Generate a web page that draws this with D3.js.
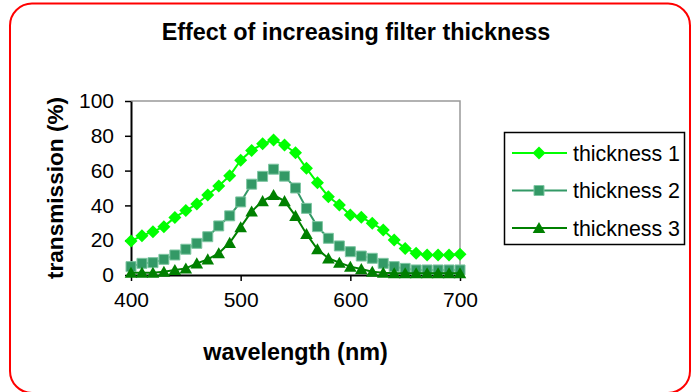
<!DOCTYPE html>
<html>
<head>
<meta charset="utf-8">
<script src="https://cdn.jsdelivr.net/npm/d3@7"></script>
<style>
  body { margin: 0; background: #fff; }
  text { font-family: Arial, "Liberation Sans", sans-serif; fill: #000; }
</style>
</head>
<body>
<div id="chart"></div>
<script>
var wavelengths = [400, 410, 420, 430, 440, 450, 460, 470, 480, 490, 500, 510, 520, 530, 540, 550,
  560, 570, 580, 590, 600, 610, 620, 630, 640, 650, 660, 670, 680, 690, 700]
var thickness1 = [19.5, 22.6, 24.9, 27.8, 33.1, 37, 40.8, 46, 51.2, 57, 66, 71.6, 75.4, 77.6, 74.7, 70.2,
  61.3, 53, 45, 40.2, 34.5, 33.2, 29.7, 25.9, 20.1, 15.3, 12.5, 11.5, 11.5, 11.5, 11.9]
var thickness2 = [4.8, 6.7, 7.1, 9, 11.5, 14.8, 18.2, 22, 28.2, 34, 42, 52.2, 56.7, 60.8, 56.8, 50,
  38.3, 27.8, 21.1, 16.7, 13.4, 10.9, 9.6, 6.7, 4.8, 3.8, 2.9, 2.9, 2.9, 2.9, 2.9]
var thickness3 = [1.3, 1.3, 1.3, 1.9, 2.9, 3.8, 6.7, 9, 12.5, 18.5, 27.5, 36.5, 42.5, 46, 42.5, 34,
  23.6, 14.8, 9.6, 7.1, 4.8, 3.4, 1.9, 1.3, 1, 1, 1, 1, 1, 1, 1]
var seriesNames = ["thickness 1", "thickness 2", "thickness 3"]
var xTicks = [400, 500, 600, 700]
var yTicks = [0, 20, 40, 60, 80, 100]

var width = 691, height = 392
var series = [
  {name: seriesNames[0], values: thickness1, color: "#00ff00", marker: "diamond"},
  {name: seriesNames[1], values: thickness2, color: "#339966", marker: "square"},
  {name: seriesNames[2], values: thickness3, color: "#008000", marker: "triangle"}
]

var svg = d3.select("#chart").append("svg")
  .attr("width", width)
  .attr("height", height)

// outer rounded frame
svg.append("rect")
  .attr("x", 10).attr("y", 3.5)
  .attr("width", 680).attr("height", 389.5)
  .attr("rx", 22).attr("ry", 22)
  .attr("fill", "none")
  .attr("stroke", "#ff0000")
  .attr("stroke-width", 2)

var x = d3.scaleLinear().domain([400, 700]).range([131, 460])
var y = d3.scaleLinear().domain([0, 100]).range([275, 101])

// plot frame (top/right gray)
svg.append("path")
  .attr("d", "M" + x(400) + "," + y(100) + "H" + x(700) + "V" + y(0))
  .attr("fill", "none").attr("stroke", "#999").attr("stroke-width", 1.5)

var xAxis = svg.append("g")
  .attr("transform", "translate(0," + y(0) + ")")
  .call(d3.axisBottom(x).tickValues(xTicks).tickSize(6).tickPadding(10).tickSizeOuter(0))
var yAxis = svg.append("g")
  .attr("transform", "translate(" + x(400) + ",0)")
  .call(d3.axisLeft(y).tickValues(yTicks).tickSize(6).tickPadding(11).tickSizeOuter(0))

;[xAxis, yAxis].forEach(function(a){
  a.select(".domain").attr("stroke", "#000").attr("stroke-width", 2)
  a.selectAll(".tick line").attr("stroke", "#000").attr("stroke-width", 1.5)
  a.selectAll(".tick text")
    .style("font-family", "Arial, 'Liberation Sans', sans-serif")
    .style("font-size", "21px")
    .attr("fill", "#000")
})
xAxis.selectAll(".tick text").attr("dy", "0.75em")

function markerPath(type, s){
  if(type == "diamond") return "M0," + (-s) + "L" + s + ",0L0," + s + "L" + (-s) + ",0Z"
  if(type == "square") return "M" + (-s) + "," + (-s) + "H" + s + "V" + s + "H" + (-s) + "Z"
  return "M0," + (-s) + "L" + (s * 1.05) + "," + (s * 0.85) + "H" + (-s * 1.05) + "Z"
}
var markerSize = {diamond: 6.5, square: 5, triangle: 6}

function drawMarker(g, type, color){
  var p = g.append("path").attr("d", markerPath(type, markerSize[type])).attr("fill", color)
  if(type == "square"){
    p.attr("stroke", "#7ec6a2").attr("stroke-width", 1)
  }
}

var line = d3.line()
  .x(function(d, i){ return x(wavelengths[i]) })
  .y(function(d){ return y(d) })

series.forEach(function(s){
  svg.append("path")
    .datum(s.values)
    .attr("d", line)
    .attr("fill", "none")
    .attr("stroke", s.color)
    .attr("stroke-width", 2)
  svg.append("g").selectAll("g").data(s.values).enter().append("g")
    .attr("transform", function(d, i){ return "translate(" + x(wavelengths[i]) + "," + y(d) + ")" })
    .each(function(){ drawMarker(d3.select(this), s.marker, s.color) })
})

// titles
svg.append("text")
  .attr("x", 356).attr("y", 40)
  .attr("text-anchor", "middle")
  .style("font-size", "23.4px").style("font-weight", "bold")
  .text("Effect of increasing filter thickness")

svg.append("text")
  .attr("x", (x(400) + x(700)) / 2).attr("y", 360)
  .attr("text-anchor", "middle")
  .style("font-size", "23.4px").style("font-weight", "bold")
  .text("wavelength (nm)")

svg.append("text")
  .attr("transform", "translate(63," + ((y(0) + y(100)) / 2) + ") rotate(-90)")
  .attr("text-anchor", "middle")
  .style("font-size", "22.6px").style("font-weight", "bold")
  .text("transmission (%)")

// legend
var legend = svg.append("g")
legend.append("rect")
  .attr("x", 504.5).attr("y", 132.5)
  .attr("width", 180).attr("height", 112)
  .attr("fill", "#fff").attr("stroke", "#000").attr("stroke-width", 1.5)

var legendY = d3.scalePoint().domain(seriesNames).range([153, 228])
series.forEach(function(s){
  var g = legend.append("g").attr("transform", "translate(0," + legendY(s.name) + ")")
  g.append("line").attr("x1", 512).attr("x2", 567)
    .attr("stroke", s.color).attr("stroke-width", 2)
  drawMarker(g.append("g").attr("transform", "translate(539,0)"), s.marker, s.color)
  g.append("text").attr("x", 573).attr("y", 0).attr("dy", "0.36em")
    .style("font-size", "21.4px")
    .text(s.name)
})
</script>
</body>
</html>
